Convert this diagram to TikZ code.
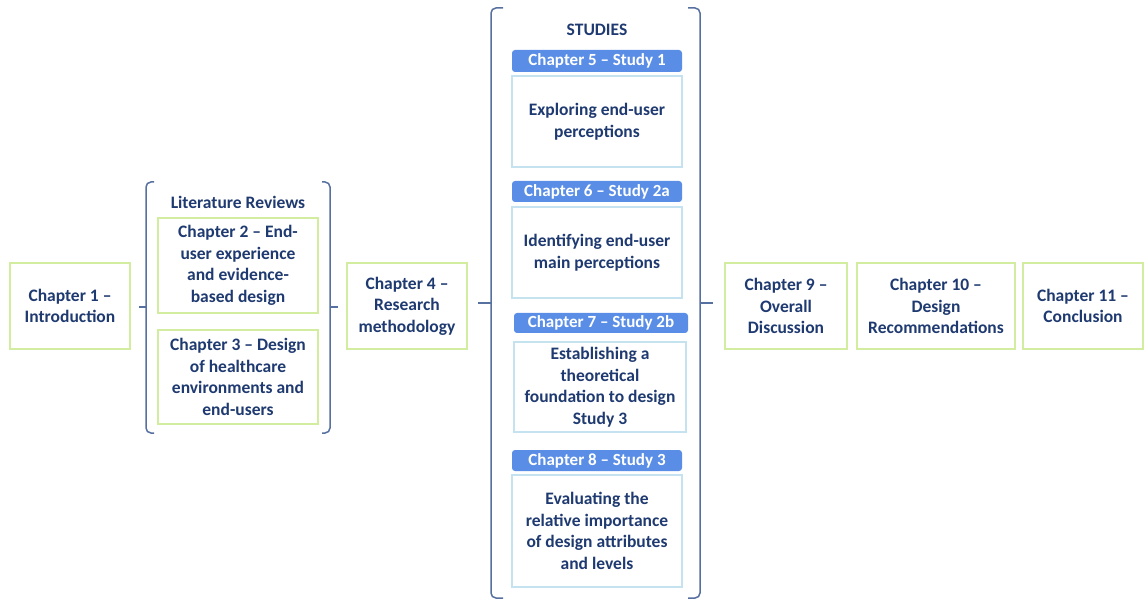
\documentclass[tikz,border=0pt]{standalone}
\usepackage{fontspec}
\setmainfont{Carlito}
\definecolor{navy}{HTML}{1F3A70}
\definecolor{leaf}{HTML}{D2ECA0}
\definecolor{sky}{HTML}{C4E2F0}
\definecolor{band}{HTML}{5A8EE6}
\definecolor{brace}{HTML}{5670A0}
\begin{document}
\begin{tikzpicture}[x=1pt,y=-1pt,
  txt/.style={font=\fontsize{17.5}{21.5}\selectfont\bfseries, text=navy, align=center},
  chapbox/.style={txt, draw=leaf, line width=1.6pt, fill=white, inner sep=0pt},
  studybox/.style={txt, draw=sky, line width=1.2pt, fill=white, inner sep=0pt},
  header/.style={font=\fontsize{17}{20}\selectfont\bfseries, text=white, fill=band, rounded corners=3pt, inner sep=0pt},
  grouplabel/.style={txt},
  bracket/.style={draw=brace, line width=1.5pt, rounded corners=5pt}]
\useasboundingbox (0,0) rectangle (1145,601);

% left-hand chapters
\node[chapbox, minimum width=120, minimum height=86] (c1) at (70,306) {Chapter 1 --\\Introduction};

% literature reviews group
\node[grouplabel] (lit) at (238,202) {Literature Reviews};
\node[chapbox, minimum width=160, minimum height=95] (c2) at (238,265.5) {Chapter 2 -- End-\\user experience\\and evidence-\\based design};
\node[chapbox, minimum width=160, minimum height=94] (c3) at (238,377) {Chapter 3 -- Design\\of healthcare\\environments and\\end-users};

\node[chapbox, minimum width=120, minimum height=86] (c4) at (407,306) {Chapter 4 --\\Research\\methodology};

% studies group
\node[grouplabel] (stud) at (597,30) {STUDIES};
\node[header, minimum width=170, minimum height=22] (h5) at (597,61) {Chapter 5 -- Study 1};
\node[studybox, minimum width=170, minimum height=91] (s5) at (597,121.5) {Exploring end-user\\perceptions};
\node[header, minimum width=170, minimum height=21] (h6) at (597,191.5) {Chapter 6 -- Study 2a};
\node[studybox, minimum width=170, minimum height=91] (s6) at (597,252.5) {Identifying end-user\\main perceptions};
\node[header, minimum width=174, minimum height=20] (h7) at (601,323) {Chapter 7 -- Study 2b};
\node[studybox, minimum width=172, minimum height=90] (s7) at (600,387) {Establishing a\\theoretical\\foundation to design\\Study 3};
\node[header, minimum width=170, minimum height=21] (h8) at (597,460.5) {Chapter 8 -- Study 3};
\node[studybox, minimum width=170, minimum height=112] (s8) at (597,531) {Evaluating the\\relative importance\\of design attributes\\and levels};

% right-hand chapters
\node[chapbox, minimum width=122, minimum height=86] (c9) at (786,306) {Chapter 9 --\\Overall\\Discussion};
\node[chapbox, minimum width=158, minimum height=86] (c10) at (936,306) {Chapter 10 --\\Design\\Recommendations};
\node[chapbox, minimum width=120, minimum height=86] (c11) at (1083,306) {Chapter 11 --\\Conclusion};

% brackets around the literature reviews
\draw[bracket] (154,182) -- (146,182) -- (146,433) -- (154,433);
\draw[brace, line width=1.5pt] (146,307) -- (139,307);
\draw[bracket] (322,182) -- (330,182) -- (330,433) -- (322,433);
\draw[brace, line width=1.5pt] (330,307) -- (338,307);

% brackets around the studies
\draw[bracket] (503,8) -- (491,8) -- (491,598) -- (503,598);
\draw[brace, line width=1.5pt] (491,303) -- (478,303);
\draw[bracket] (688,8) -- (700,8) -- (700,598) -- (688,598);
\draw[brace, line width=1.5pt] (700,303) -- (713,303);
\end{tikzpicture}
\end{document}
